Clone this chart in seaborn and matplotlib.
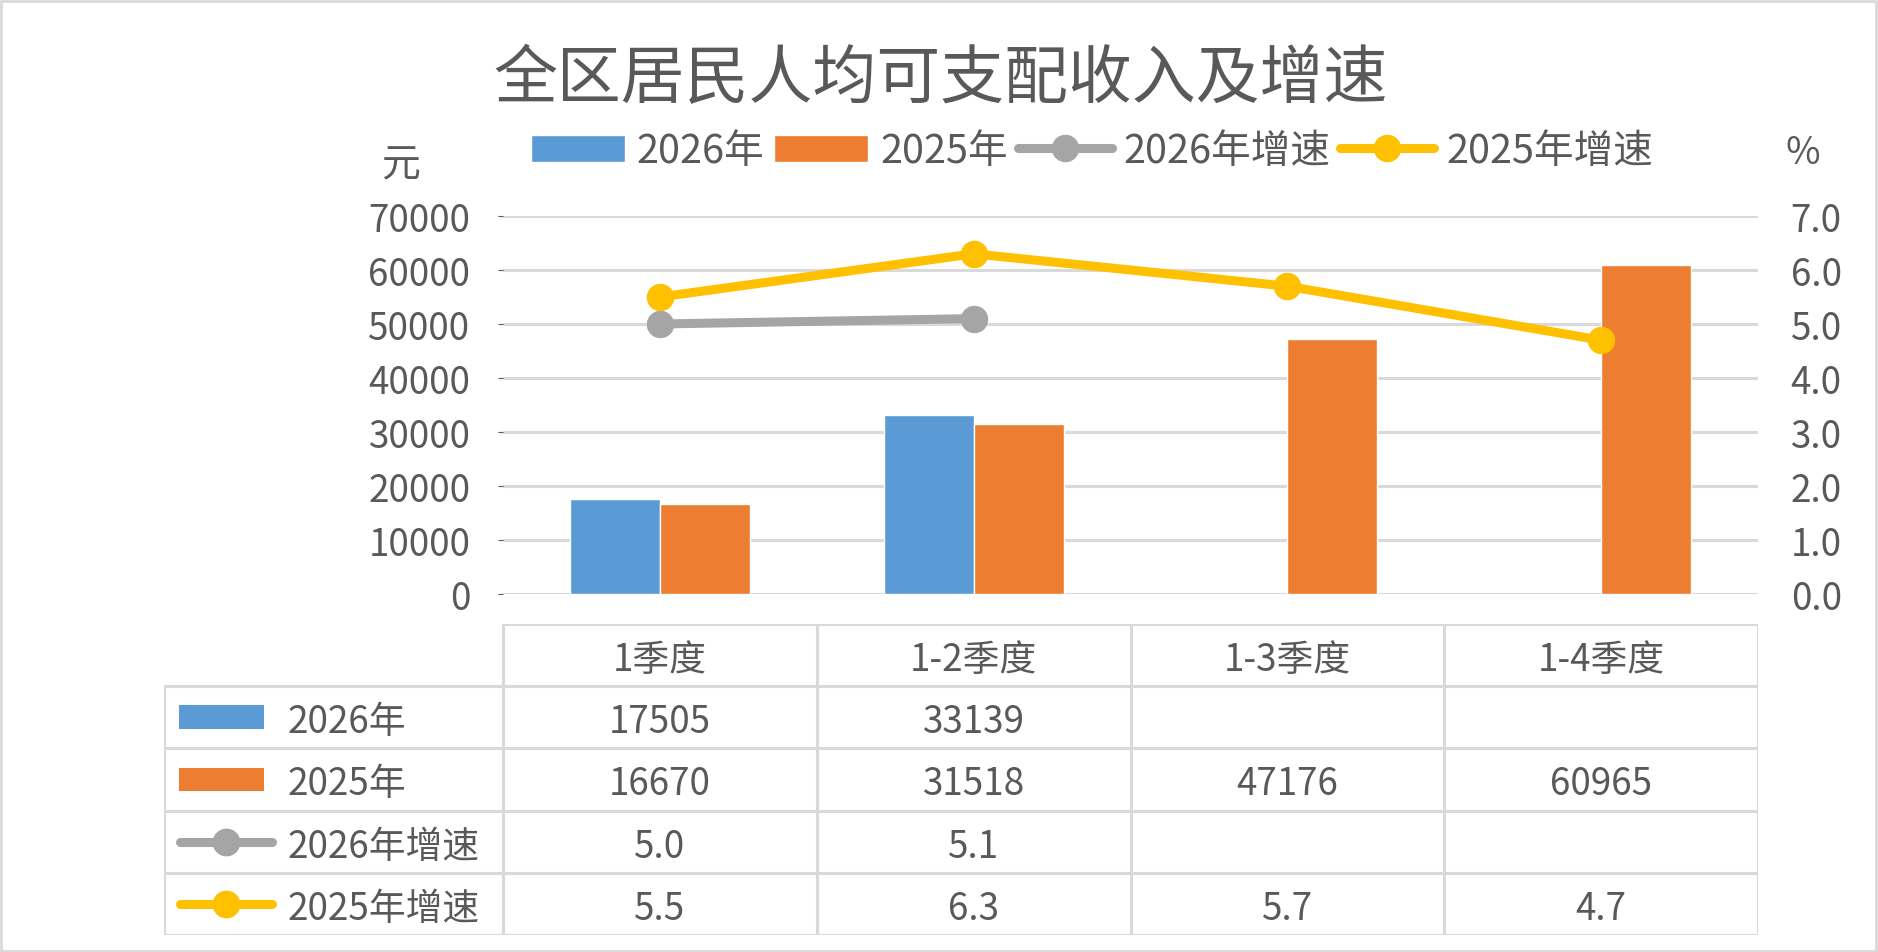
import numpy as np
import pandas as pd
import seaborn as sns
import matplotlib.pyplot as plt
from matplotlib.patches import Rectangle

quarters = ['1季度', '1-2季度', '1-3季度', '1-4季度']
income_2026 = [17505, 33139, np.nan, np.nan]
income_2025 = [16670, 31518, 47176, 60965]
growth_2026 = [5.0, 5.1, np.nan, np.nan]
growth_2025 = [5.5, 6.3, 5.7, 4.7]
left_ticks = [0, 10000, 20000, 30000, 40000, 50000, 60000, 70000]
right_ticks = [0.0, 1.0, 2.0, 3.0, 4.0, 5.0, 6.0, 7.0]

blue, orange, gray, yellow = '#5B9BD5', '#ED7D31', '#A5A5A5', '#FFC000'
txt = '#595959'
grid_c = '#D9D9D9'

sns.set_style('white')
plt.rcParams['font.family'] = ['Noto Sans CJK SC', 'DejaVu Sans']

df = pd.DataFrame({
    '季度': quarters * 2,
    '年份': ['2026年'] * 4 + ['2025年'] * 4,
    '收入': income_2026 + income_2025,
}).dropna()

W, H = 1878, 953
fig = plt.figure(figsize=(W / 100, H / 100), dpi=100)

# main plot area in pixel terms
x0, x1 = 503, 1758
y_top, y_bot = 217, 595
ax = fig.add_axes([x0 / W, 1 - y_bot / H, (x1 - x0) / W, (y_bot - y_top) / H])

sns.barplot(data=df, x='季度', y='收入', hue='年份', hue_order=['2026年', '2025年'],
            order=quarters, palette=[blue, orange], saturation=1, width=0.573, ax=ax)
ax.set_xlim(-0.5, 3.5)
ax.set_ylim(0, 70000)
ax.set_yticks(left_ticks)
ax.set_yticklabels([str(t) for t in left_ticks])
ax.yaxis.grid(True, color=grid_c, lw=2.2)
ax.set_axisbelow(True)
for s in ax.spines.values():
    s.set_visible(False)
ax.tick_params(axis='y', left=False, labelsize=26.5, colors=txt, pad=20)
ax.tick_params(axis='x', bottom=False, labelbottom=False)
ax.set_xlabel('')
ax.set_ylabel('')

ax2 = ax.twinx()
pos = list(range(len(quarters)))
sns.lineplot(x=pos, y=growth_2026, color=gray, lw=6.5, marker='o', markersize=19,
             markeredgecolor=gray, label='2026年增速', ax=ax2)
sns.lineplot(x=pos, y=growth_2025, color=yellow, lw=6.5, marker='o', markersize=19,
             markeredgecolor=yellow, label='2025年增速', ax=ax2)
ax2.set_ylim(0, 7)
ax2.set_yticks(right_ticks)
ax2.set_yticklabels([f'{t:.1f}' for t in right_ticks])
for s in ax2.spines.values():
    s.set_visible(False)
ax2.tick_params(axis='y', right=False, labelsize=26.5, colors=txt, pad=20)
ax2.set_ylabel('')

h1, l1 = ax.get_legend_handles_labels()
h2, l2 = ax2.get_legend_handles_labels()
ax.legend_.remove()
ax2.legend_.remove()
fig.legend(h1 + h2, l1 + l2, ncol=4, loc='center', bbox_to_anchor=(1092 / W, 1 - 152 / H),
           frameon=False, fontsize=28.5, labelcolor=txt, handlelength=2.37, handleheight=0.68,
           handletextpad=0.3, columnspacing=0.25)

fig.text(940 / W, 1 - 80 / H, '全区居民人均可支配收入及增速', ha='center', va='center',
         fontsize=46, color=txt, fontweight='light')
fig.text(401 / W, 1 - 165 / H, '元', ha='center', va='center', fontsize=28, color=txt)
fig.text(1803 / W, 1 - 154 / H, '%', ha='center', va='center', fontsize=27, color=txt)

# data table under the chart
t_left, t_top, t_bot = 164, 625, 936
lab_w = (x0 - t_left) / ((x1 - x0) / len(quarters))
tab = fig.add_axes([t_left / W, 1 - t_bot / H, (x1 - t_left) / W, (t_bot - t_top) / H])
tab.set_xlim(-lab_w, len(quarters))
tab.set_ylim(5, 0)
tab.axis('off')
lw = 2.2
tab.plot([0, len(quarters)], [0, 0], color=grid_c, lw=lw, solid_capstyle='projecting')
for r in range(1, 6):
    tab.plot([-lab_w, len(quarters)], [r, r], color=grid_c, lw=lw, solid_capstyle='projecting')
tab.plot([-lab_w, -lab_w], [1, 5], color=grid_c, lw=lw, solid_capstyle='projecting')
for c in range(len(quarters) + 1):
    tab.plot([c, c], [0, 5], color=grid_c, lw=lw, solid_capstyle='projecting')

dy = 0.07  # nudge text down a little, CJK metrics sit high
for i, q in enumerate(quarters):
    tab.text(i + 0.5, 0.5 + dy, q, ha='center', va='center', fontsize=26.5, color=txt)

rows = [
    ('2026年', [f'{v:.0f}' if not np.isnan(v) else '' for v in income_2026], 'bar', blue),
    ('2025年', [f'{v:.0f}' if not np.isnan(v) else '' for v in income_2025], 'bar', orange),
    ('2026年增速', [f'{v:.1f}' if not np.isnan(v) else '' for v in growth_2026], 'line', gray),
    ('2025年增速', [f'{v:.1f}' if not np.isnan(v) else '' for v in growth_2025], 'line', yellow),
]
unit = (x1 - x0) / len(quarters)
for k, (name, vals, kind, col) in enumerate(rows):
    yc = k + 1.5
    if kind == 'bar':
        tab.add_patch(Rectangle((-lab_w + 15 / unit, yc - 0.19), 85 / unit, 0.38,
                                color=col, lw=0))
    else:
        tab.plot([-lab_w + 16 / unit, -lab_w + 108 / unit], [yc, yc], color=col, lw=6.5,
                 solid_capstyle='round')
        tab.plot([-lab_w + 62 / unit], [yc], 'o', color=col, markersize=19)
    tab.text(-lab_w + 124 / unit, yc + dy, name, ha='left', va='center', fontsize=26.5, color=txt)
    for i, v in enumerate(vals):
        tab.text(i + 0.5, yc + dy, v, ha='center', va='center', fontsize=26.5, color=txt)

fig.patches.append(Rectangle((1 / W, 1 / H), 1 - 3 / W, 1 - 3 / H, transform=fig.transFigure,
                             fill=False, edgecolor=grid_c, lw=2))

fig.savefig('out.png', dpi=100)
